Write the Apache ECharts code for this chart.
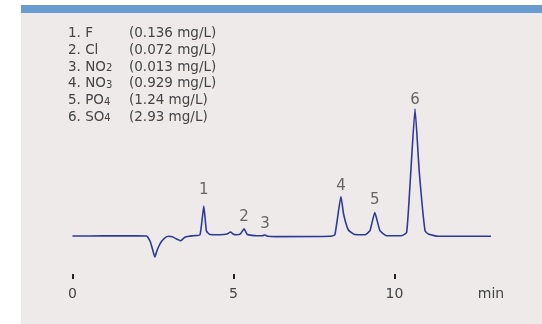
<!DOCTYPE html>
<html>
<head>
<meta charset="utf-8">
<script src="https://cdn.jsdelivr.net/npm/echarts@6/dist/echarts.min.js"></script>
<style>
  html, body { margin: 0; padding: 0; background: #ffffff; }
  #chart { width: 542px; height: 324px; }
</style>
</head>
<body>
<div id="chart"></div>
<script>
// Ion chromatogram: retention time (min) vs detector response (arbitrary units)
const times = [
  0.00, 1.00, 2.00, 2.30, 2.42, 2.50, 2.56, 2.62, 2.70, 2.77, 2.87, 2.98,
  3.10, 3.22, 3.36, 3.49, 3.62, 3.75, 3.96, 4.08, 4.16, 4.27, 4.58, 4.80,
  4.91, 5.00, 5.10, 5.22, 5.33, 5.43, 5.72, 5.90, 5.98, 6.07, 6.30, 8.00,
  8.15, 8.34, 8.42, 8.57, 8.77, 9.08, 9.24, 9.39, 9.55, 9.76, 10.22, 10.38,
  10.51, 10.64, 10.77, 10.95, 11.05, 11.36, 13.00
];
const signal = [
  0.0, 0.1, 0.2, 0.0, -6, -15, -21, -15, -9, -5.3, -1.8, -0.3,
  -0.8, -2.8, -4.7, -1.3, -0.2, 0.3, 1.3, 30, 5, 1.5, 1.3, 2,
  4, 1.8, 1.3, 2.2, 7.3, 1.5, 0.2, 0.3, 1.0, -0.3, -0.6, -0.3,
  1.3, 39.5, 22, 6, 1.5, 1.3, 5.3, 23.5, 5.3, 0.3, 0.3, 3.7,
  65, 127, 65, 5.3, 2, -0.3, -0.3
];

// Identified peaks
const peakNumbers = ['1', '2', '3', '4', '5', '6'];
const peakTimes = [4.08, 5.33, 5.98, 8.34, 9.39, 10.64];
const peakHeights = [30, 7.3, 1.0, 39.5, 23.5, 127];

// Compound list (a '|' marks the start of a subscript)
const ionNumbers = ['1.', '2.', '3.', '4.', '5.', '6.'];
const ionNames = ['F', 'Cl', 'NO|2', 'NO|3', 'PO|4', 'SO|4'];
const concentrations = ['0.136', '0.072', '0.013', '0.929', '1.24', '2.93'];

// Axis tick values
const tickValues = [0, 5, 10];
const axisUnit = 'min';

const FONT = '"DejaVu Sans", sans-serif';
const TEXT = '#444444';
const LINE = '#2f3a98';

// gap between each peak apex and its number
const labelGaps = [8, 4, 3, 3, 5, 1];

const chart = echarts.init(document.getElementById('chart'), null, { renderer: 'canvas' });

const legendTexts = [];
ionNumbers.forEach((num, i) => {
  const y = 34.5 + i * 16.75;
  const parts = ionNames[i].split('|');
  legendTexts.push({
    type: 'text', left: 68, top: y - 8, z: 10,
    style: {
      text: '{n|' + num + ' ' + parts[0] + '}' + (parts[1] ? '{sub|' + parts[1] + '}' : ''),
      rich: {
        n: { fontSize: 13.5, fontFamily: FONT, fill: TEXT },
        sub: { fontSize: 10, fontFamily: FONT, fill: TEXT, padding: [3, 0, 0, 0] }
      }
    }
  });
  legendTexts.push({
    type: 'text', left: 129, top: y - 8, z: 10,
    style: {
      text: '(' + concentrations[i] + ' mg/L)',
      fontSize: 13.5, fontFamily: FONT, fill: TEXT
    }
  });
});

const trace = times.map((t, i) => [t, signal[i]]);
const peaks = peakTimes.map((t, i) => ({
  value: [t, peakHeights[i]],
  label: { distance: labelGaps[i] }
}));

chart.setOption({
  backgroundColor: '#ffffff',
  animation: false,
  graphic: [
    { type: 'rect', shape: { x: 21, y: 13, width: 521, height: 311 }, style: { fill: '#eeeaea' }, z: -10 },
    { type: 'rect', shape: { x: 21, y: 5, width: 521, height: 8 }, style: { fill: '#689bd2' }, z: -10 }
  ].concat(legendTexts),
  grid: { left: 72.5, right: 51, top: 96, bottom: 50 },
  xAxis: {
    type: 'value', min: 0, max: 13, interval: 5,
    axisLine: { show: false, onZero: false },
    splitLine: { show: false },
    axisTick: {
      show: true, length: 5, customValues: tickValues,
      lineStyle: { color: '#222', width: 2 }
    },
    axisLabel: {
      customValues: tickValues.concat([13]),
      formatter: v => (v === 13 ? axisUnit : String(v)),
      margin: 13, fontSize: 14, fontFamily: FONT, color: TEXT
    }
  },
  yAxis: {
    type: 'value', min: -38, max: 140, show: false
  },
  series: [
    {
      type: 'line', data: trace, showSymbol: false, smooth: 0.15,
      lineStyle: { color: LINE, width: 1.6 }, z: 3
    },
    {
      type: 'scatter', data: peaks, symbolSize: 0, silent: true,
      label: {
        show: true, position: 'top',
        formatter: p => peakNumbers[p.dataIndex],
        fontSize: 15, fontFamily: FONT, color: '#444'
      }
    }
  ]
});
</script>
</body>
</html>
